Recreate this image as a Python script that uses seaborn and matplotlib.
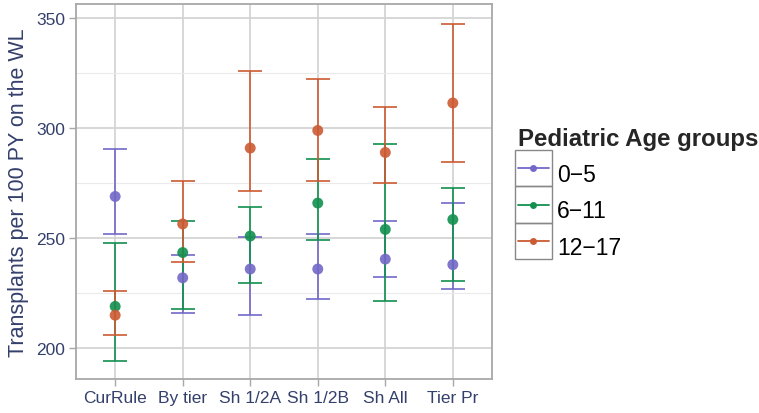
import matplotlib
matplotlib.use("Agg")
import matplotlib.pyplot as plt
from matplotlib.lines import Line2D
from matplotlib.patches import Rectangle
import pandas as pd
import seaborn as sns

# Allocation rules on the x axis
rules = ["CurRule", "By tier", "Sh 1/2A", "Sh 1/2B", "Sh All", "Tier Pr"]
age_groups = ["0\u22125", "6\u221211", "12\u221217"]

# Transplant rates (per 100 patient-years on the waiting list) with 95% limits
rate_0_5 = [269, 232, 236, 236, 240.5, 238]
low_0_5 = [252, 216, 215, 222.5, 232.5, 227]
high_0_5 = [290.5, 242.5, 250.5, 252, 258, 266]

rate_6_11 = [219, 243.5, 251, 266, 254, 258.5]
low_6_11 = [194, 218, 229.5, 249, 221.5, 230.5]
high_6_11 = [248, 258, 264, 286, 293, 273]

rate_12_17 = [215, 256.5, 291, 299, 289, 311.5]
low_12_17 = [206, 239, 271.5, 276, 275, 284.5]
high_12_17 = [226, 276, 326, 322.5, 309.5, 347.5]

colors = ["#7268C8", "#12904F", "#CC5A32"]

frames = []
for g, r, lo, hi in zip(age_groups,
                        [rate_0_5, rate_6_11, rate_12_17],
                        [low_0_5, low_6_11, low_12_17],
                        [high_0_5, high_6_11, high_12_17]):
    frames.append(pd.DataFrame({"rule": rules, "group": g, "rate": r,
                                "low": lo, "high": hi}))
df = pd.concat(frames, ignore_index=True)

sns.set_theme(style="white")
plt.rcParams["font.family"] = ["Liberation Sans", "DejaVu Sans"]

fig = plt.figure(figsize=(7.59, 4.14), dpi=100)
ax = fig.add_axes([76 / 759, 34 / 414, 416 / 759, 375 / 414])

text_col = "#34406c"
grid_col = "#d4d4d4"

# error bars first, all groups
for g, c in zip(age_groups, colors):
    sub = df[df["group"] == g]
    ax.errorbar(sub["rule"], sub["rate"],
                yerr=[sub["rate"] - sub["low"], sub["high"] - sub["rate"]],
                fmt="none", ecolor=c, elinewidth=1.2, capsize=8.5,
                capthick=1.2, zorder=2)

# points on top
sns.scatterplot(data=df, x="rule", y="rate", hue="group",
                palette=colors, hue_order=age_groups, s=62,
                edgecolor="none", alpha=0.9, legend=False, ax=ax, zorder=3)

ax.set_xlim(-0.58, len(rules) - 1 + 0.58)
ax.set_ylim(186, 356.5)
ax.set_yticks([200, 250, 300, 350])
ax.set_yticks([225, 275, 325], minor=True)

ax.grid(True, which="major", color=grid_col, lw=1.3)
ax.grid(True, which="minor", axis="y", color="#ebebeb", lw=0.8)
ax.set_axisbelow(True)
for sp in ax.spines.values():
    sp.set_color("#a8a8a8")
    sp.set_linewidth(1.3)

ax.tick_params(axis="both", which="major", length=5, width=1, color="#a8a8a8",
               labelsize=12.5, labelcolor=text_col, pad=3, direction="out",
               bottom=True, left=True)
ax.tick_params(axis="y", which="minor", length=0)

ax.set_xlabel("")
ax.set_ylabel("Transplants per 100 PY on the WL", fontsize=15.5,
              color=text_col, labelpad=5)

handles = [Line2D([], [], color=c, marker="o", markersize=5, lw=1.3,
                  markeredgecolor="none") for c in colors]
leg = fig.legend(handles, age_groups, loc="upper left",
                 bbox_to_anchor=(518 / 759, 1 - 128 / 414),
                 frameon=False, fontsize=16.5, title="Pediatric Age groups",
                 title_fontproperties={"weight": "bold", "size": 17.3},
                 alignment="left", handlelength=1.35, handleheight=2.0,
                 labelspacing=0.05, handletextpad=0.35, borderpad=0,
                 borderaxespad=0)
leg._legend_box.sep = 4
for t in leg.get_texts():
    t.set_color("black")

# boxed legend keys
fig.canvas.draw()
renderer = fig.canvas.get_renderer()
inv = fig.transFigure.inverted()
boxes = [h.get_window_extent(renderer) for h in leg.legend_handles]
centers = [(b.y0 + b.y1) / 2 for b in boxes]
pitch = abs(centers[0] - centers[1])
for b, cy in zip(boxes, centers):
    (x0, y0) = inv.transform((b.x0, cy - pitch / 2))
    (x1, y1) = inv.transform((b.x1, cy + pitch / 2))
    fig.add_artist(Rectangle((x0, y0), x1 - x0, y1 - y0, transform=fig.transFigure,
                             fill=False, edgecolor="#888888", lw=1.0))

fig.savefig("out.png", dpi=100)
